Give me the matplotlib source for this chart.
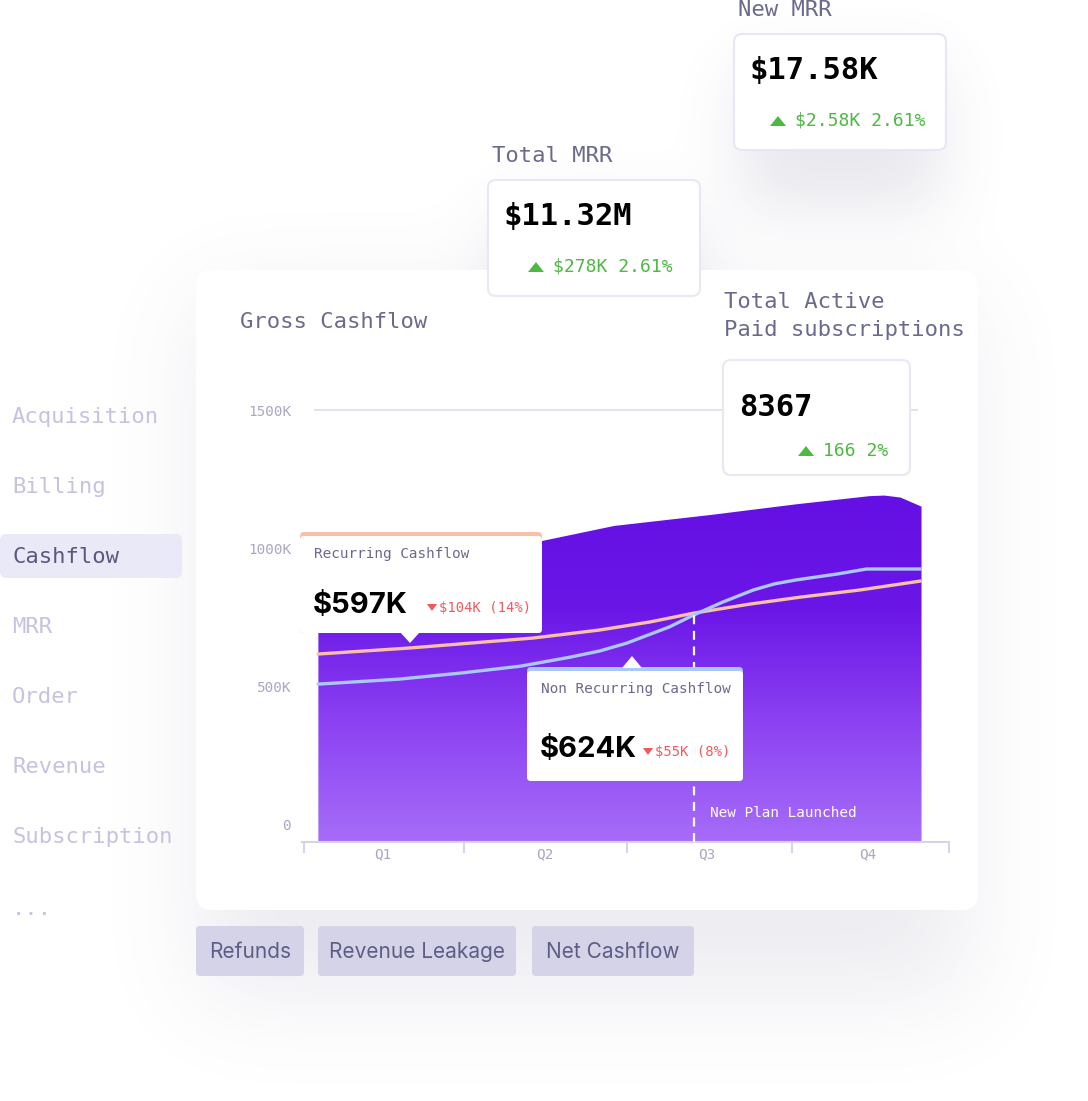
import numpy as np
import matplotlib
matplotlib.use("Agg")
import matplotlib.pyplot as plt
from matplotlib.patches import FancyBboxPatch, Polygon, PathPatch
from matplotlib.colors import LinearSegmentedColormap

# ---- data -------------------------------------------------------------
quarters = ['Q1', 'Q2', 'Q3', 'Q4']
y_ticks = [0, 500, 1000, 1500]
y_tick_labels = ['0', '500K', '1000K', '1500K']

# gross cashflow (K) along the quarter axis
gross_x = [0.6, 1.98, 2.43, 3.03, 3.55, 4.01, 4.1, 4.2, 4.33]
gross_k = [870, 1025, 1080, 1120, 1158, 1188, 1190, 1183, 1150]

recurring_x = [0.6, 1.17, 1.93, 2.34, 2.65, 2.92, 3.27, 3.58, 3.95, 4.32]
recurring_k = [616, 638, 674, 703, 732, 764, 797, 822, 848, 880]

nonrec_x = [0.6, 1.1, 1.48, 1.85, 2.16, 2.34, 2.51, 2.64, 2.77, 2.92,
            3.1, 3.29, 3.42, 3.55, 3.81, 3.99, 4.32]
nonrec_k = [507, 525, 547, 572, 605, 627, 656, 685, 714, 757,
            804, 848, 870, 884, 906, 924, 924]

launch_x = 2.925
launch_label = 'New Plan Launched'

menu_items = ['Acquisition', 'Billing', 'Cashflow', 'MRR', 'Order',
              'Revenue', 'Subscription', '...']
active_item = 'Cashflow'
pill_labels = ['Refunds', 'Revenue Leakage', 'Net Cashflow']

kpi_titles = ['New MRR', 'Total MRR', 'Total Active\nPaid subscriptions']
kpi_values = ['$17.58K', '$11.32M', '8367']
kpi_deltas = ['$2.58K 2.61%', '$278K 2.61%', '166 2%']

tip_titles = ['Recurring Cashflow', 'Non Recurring Cashflow']
tip_values = ['$597K', '$624K']
tip_deltas = ['$104K (14%)', '$55K (8%)']

# ---- style ------------------------------------------------------------
MONO = 'DejaVu Sans Mono'
SANS = 'Inter'
W, H = 1088, 1101
title_col = '#6B6A8E'
tick_col = '#A9A8C4'
green = '#4DB843'
red = '#F25A5A'
peach = '#F9BFA8'
blue = '#A9C7F7'

fig = plt.figure(figsize=(W / 100, H / 100), dpi=100)
fig.patch.set_facecolor('white')

bg = fig.add_axes([0, 0, 1, 1], zorder=1)
bg.set_xlim(0, W)
bg.set_ylim(H, 0)
bg.axis('off')


def blur(a, sigma):
    r = int(3 * sigma)
    k = np.exp(-np.arange(-r, r + 1) ** 2 / (2 * sigma ** 2))
    k /= k.sum()
    a = np.apply_along_axis(lambda m: np.convolve(m, k, mode='same'), 0, a)
    a = np.apply_along_axis(lambda m: np.convolve(m, k, mode='same'), 1, a)
    return a


# soft drop shadows (computed on a coarse grid)
s = 4
shadow = np.zeros((H // s + 1, W // s + 1))
for (x0, y0, x1, y1, sig, st) in [(200, 300, 975, 1000, 12, 0.55),
                                  (745, 70, 945, 210, 8, 0.7),
                                  (500, 215, 700, 360, 8, 0.6),
                                  (730, 390, 910, 500, 7, 0.5)]:
    m = np.zeros_like(shadow)
    m[y0 // s:y1 // s, x0 // s:x1 // s] = st
    shadow += blur(m, sig)
rgba = np.zeros(shadow.shape + (4,))
rgba[..., 0], rgba[..., 1], rgba[..., 2] = 0.42, 0.41, 0.56
rgba[..., 3] = np.clip(shadow, 0, 1) * 0.22
bg.imshow(rgba, extent=[0, W, H, 0], aspect='auto', zorder=0, interpolation='bilinear')

# main card
bg.add_patch(FancyBboxPatch((196, 270), 782, 640, boxstyle='round,pad=0,rounding_size=16',
                            fc='white', ec='none', zorder=2))
bg.text(240, 322, 'Gross Cashflow', fontsize=16, family=MONO, color=title_col,
        va='center', ha='left', zorder=3)

# left menu
for i, item in enumerate(menu_items):
    y = 417 + i * 70 + (2 if item == '...' else 0)
    if item == active_item:
        bg.add_patch(FancyBboxPatch((0, y - 23), 182, 44, boxstyle='round,pad=0,rounding_size=6',
                                    fc='#EAE9F7', ec='none', zorder=2))
        col = '#5A5880'
    else:
        col = '#C5C3DF'
    bg.text(12, y, item, fontsize=16, family=MONO, color=col, va='center', ha='left', zorder=3)

# bottom pills
pill_x = [196, 318, 532]
pill_w = [108, 198, 162]
for lbl, x0, w in zip(pill_labels, pill_x, pill_w):
    bg.add_patch(FancyBboxPatch((x0, 926), w, 50, boxstyle='round,pad=0,rounding_size=4',
                                fc='#D4D3E8', ec='none', zorder=2))
    bg.text(x0 + w / 2, 952, lbl, fontsize=15, family=SANS, color='#5E5D85',
            va='center', ha='center', zorder=3)

# ---- chart ------------------------------------------------------------
ymin, ymax = -65, 1600
ax = fig.add_axes([302.2 / W, 1 - 842 / H, (949 - 302.2) / W, (842 - 382.4) / H], zorder=2)
ax.patch.set_visible(False)

fill = ax.fill_between(gross_x, gross_k, ymin, color='none', lw=0)
grad_cmap = LinearSegmentedColormap.from_list('g', ['#A66DF8', '#8D43F2', '#6A16E7', '#6410E4'])
grad = np.linspace(0, 1, 256).reshape(-1, 1)
im = ax.imshow(grad, extent=[0.5, 4.5, ymin, 1200], aspect='auto', cmap=grad_cmap,
               origin='lower', zorder=1)
clip = PathPatch(fill.get_paths()[0], transform=ax.transData, fc='none', ec='none')
ax.add_patch(clip)
im.set_clip_path(clip)

ax.plot(recurring_x, recurring_k, color=peach, lw=2.4, zorder=3, solid_joinstyle='round')
ax.plot(nonrec_x, nonrec_k, color=blue, lw=2.4, zorder=3, solid_joinstyle='round')
ax.vlines(launch_x, ymin, 764, colors='white', lw=1.6, linestyles=(0, (4, 3)), zorder=4)
ax.text(launch_x + 0.1, 40, launch_label, fontsize=10.4, family=MONO, color='white',
        va='center', ha='left', zorder=4)

ax.hlines(1500, 0.57, 4.31, colors='#E4E3F1', lw=1.5, zorder=0)

ax.set_xlim(0.5, 4.5)
ax.set_ylim(ymin, ymax)
ax.set_xticks(range(1, len(quarters) + 1))
ax.set_xticklabels(quarters)
ax.set_xticks([0.51, 1.5, 2.51, 3.53, 4.5], minor=True)
ax.set_yticks(y_ticks)
ax.set_yticklabels(y_tick_labels)
for lab in ax.get_xticklabels() + ax.get_yticklabels():
    lab.set_family(MONO)
    lab.set_fontsize(10.4)
    lab.set_color(tick_col)
ax.tick_params(axis='x', which='major', length=0, pad=4)
ax.tick_params(axis='x', which='minor', length=8, width=1.5, color='#D5D4E8', direction='out')
ax.tick_params(axis='y', length=0, pad=8)
for sp in ['top', 'right', 'left']:
    ax.spines[sp].set_visible(False)
ax.spines['bottom'].set_color('#D5D4E8')
ax.spines['bottom'].set_linewidth(1.5)

# ---- overlay: KPI cards and tooltips ----------------------------------
ov = fig.add_axes([0, 0, 1, 1], zorder=5)
ov.set_xlim(0, W)
ov.set_ylim(H, 0)
ov.axis('off')

kpi_boxes = [(734, 34, 212, 116), (488, 180, 212, 116), (723, 360, 187, 115)]
kpi_title_xy = [(738, 10), (492, 156), (724, 316)]
kpi_value_dy = [36, 36, 47]
kpi_delta_dy = [87, 87, 91]
kpi_tri_x = [778, 536, 806]
for i, (t, v, d) in enumerate(zip(kpi_titles, kpi_values, kpi_deltas)):
    x0, y0, w, h = kpi_boxes[i]
    ov.text(*kpi_title_xy[i], t, fontsize=16, family=MONO, color=title_col, va='center',
            ha='left', linespacing=1.45)
    ov.add_patch(FancyBboxPatch((x0, y0), w, h, boxstyle='round,pad=0,rounding_size=8',
                                fc='white', ec='#E8E7F5', lw=1.5))
    ov.text(x0 + 16, y0 + kpi_value_dy[i], v, fontsize=22, family=MONO, weight='bold',
            color='black', va='center', ha='left')
    ty2 = y0 + kpi_delta_dy[i]
    tx = kpi_tri_x[i]
    ov.add_patch(Polygon([(tx - 8, ty2 + 5), (tx + 8, ty2 + 5), (tx, ty2 - 5)],
                         closed=True, fc=green, ec='none'))
    ov.text(tx + 17, ty2, d, fontsize=13, family=MONO, color=green, va='center', ha='left')

# tooltips
tips = [(300, 532, 242, 101, peach, 410, 'down', 432),
        (527, 667, 216, 114, blue, 632, 'up', 648)]
for (x0, y0, w, h, col, px, direction, rx), t, v, d in zip(tips, tip_titles, tip_values, tip_deltas):
    ov.add_patch(FancyBboxPatch((x0, y0), w, h, boxstyle='round,pad=0,rounding_size=4',
                                fc=col, ec='none'))
    ov.add_patch(FancyBboxPatch((x0, y0 + 4), w, h - 4, boxstyle='round,pad=0,rounding_size=4',
                                fc='white', ec='none'))
    if direction == 'down':
        ov.add_patch(Polygon([(px - 10, y0 + h - 1), (px + 10, y0 + h - 1), (px, y0 + h + 10)],
                             closed=True, fc='white', ec='none'))
    else:
        ov.add_patch(Polygon([(px - 10, y0 + 1), (px + 10, y0 + 1), (px, y0 - 11)],
                             closed=True, fc='white', ec='none'))
    ov.text(x0 + 14, y0 + 22, t, fontsize=10.4, family=MONO, color=title_col,
            va='center', ha='left')
    vy = y0 + 73 if direction == 'down' else y0 + 82
    ov.text(x0 + 13, vy, v, fontsize=21, family=SANS, weight='bold', color='black',
            va='center', ha='left')
    ov.add_patch(Polygon([(rx - 5, vy + 2 - 3), (rx + 5, vy + 2 - 3), (rx, vy + 2 + 4)],
                         closed=True, fc=red, ec='none'))
    ov.text(rx + 7, vy + 3, d, fontsize=10, family=MONO, color=red, va='center', ha='left')

fig.savefig('out.png', dpi=100, facecolor='white')
